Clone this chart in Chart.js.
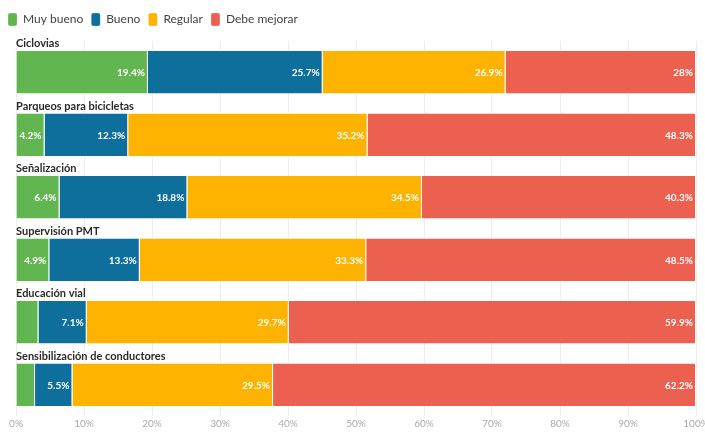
<!DOCTYPE html>
<html lang="es">
<head>
<meta charset="UTF-8">
<title>Evaluación</title>
<script src="https://cdn.jsdelivr.net/npm/chart.js"></script>
<style>
  html, body { margin: 0; padding: 0; background: #fff; }
  .wrap { width: 705px; height: 432px; }
</style>
</head>
<body>
<div class="wrap"><canvas id="grafico"></canvas></div>
<script>
  // datos
  const categorias = ['Ciclovias', 'Parqueos para bicicletas', 'Señalización', 'Supervisión PMT', 'Educación vial', 'Sensibilización de conductores'];
  const muyBueno = [19.4, 4.2, 6.4, 4.9, 3.3, 2.8];
  const bueno = [25.7, 12.3, 18.8, 13.3, 7.1, 5.5];
  const regular = [26.9, 35.2, 34.5, 33.3, 29.7, 29.5];
  const debeMejorar = [28, 48.3, 40.3, 48.5, 59.9, 62.2];
  const ticksX = [0, 10, 20, 30, 40, 50, 60, 70, 80, 90, 100];

  const fuente = "'Source Sans Pro', Lato, 'Open Sans', sans-serif";

  // etiquetas de valor dentro de cada barra
  const etiquetasValor = {
    id: 'etiquetasValor',
    afterDatasetsDraw(chart) {
      const ctx = chart.ctx;
      ctx.save();
      ctx.font = 'bold 10px ' + fuente;
      ctx.fillStyle = '#fff';
      ctx.textAlign = 'right';
      ctx.textBaseline = 'middle';
      chart.data.datasets.forEach(function (ds, i) {
        chart.getDatasetMeta(i).data.forEach(function (bar, j) {
          const v = ds.data[j];
          if (v >= 4) ctx.fillText(v + '%', bar.x - 3, bar.y + 1);
        });
      });
      ctx.restore();
    }
  };

  // nombre de cada categoría encima de su barra
  const titulosBarra = {
    id: 'titulosBarra',
    afterDraw(chart) {
      const ctx = chart.ctx;
      const meta = chart.getDatasetMeta(0);
      ctx.save();
      ctx.font = 'bold 11px ' + fuente;
      ctx.fillStyle = '#2b2b2b';
      ctx.textAlign = 'left';
      ctx.textBaseline = 'bottom';
      meta.data.forEach(function (bar, j) {
        ctx.fillText(categorias[j], chart.chartArea.left, bar.y - bar.height / 2 - 2);
      });
      ctx.restore();
    }
  };

  // un poco más de espacio debajo de la leyenda
  const espacioLeyenda = {
    id: 'espacioLeyenda',
    afterInit(chart) {
      const fit = chart.legend.fit;
      chart.legend.fit = function () {
        fit.call(this);
        this.height += 5;
      };
    }
  };

  function serie(nombre, datos, color) {
    return {
      label: nombre,
      data: datos,
      backgroundColor: color,
      borderColor: '#ffffff',
      borderWidth: { left: 0, right: 1, top: 0, bottom: 0 },
      borderSkipped: false,
      categoryPercentage: 1,
      barPercentage: 0.68
    };
  }

  new Chart(document.getElementById('grafico'), {
    type: 'bar',
    data: {
      labels: categorias,
      datasets: [
        serie('Muy bueno', muyBueno, '#62b64f'),
        serie('Bueno', bueno, '#0e6e9c'),
        serie('Regular', regular, '#fdb300'),
        serie('Debe mejorar', debeMejorar, '#eb604e')
      ]
    },
    options: {
      indexAxis: 'y',
      responsive: true,
      maintainAspectRatio: false,
      animation: false,
      layout: { padding: { top: 5, bottom: 0, left: 0, right: 0 } },
      scales: {
        x: {
          stacked: true,
          min: 0,
          max: 100,
          afterBuildTicks(scale) {
            scale.ticks = ticksX.map(function (v) { return { value: v }; });
          },
          afterFit(scale) {
            scale.paddingLeft = 16;
            scale.paddingRight = 9;
          },
          ticks: {
            callback: function (v) { return v + '%'; },
            color: '#aaaaaa',
            font: { size: 10, family: fuente },
            padding: 2,
            maxRotation: 0
          },
          grid: { color: '#eeeeee', drawTicks: false },
          border: { display: false }
        },
        y: {
          stacked: true,
          display: false
        }
      },
      plugins: {
        legend: {
          position: 'top',
          align: 'start',
          labels: {
            boxWidth: 9,
            boxHeight: 13,
            useBorderRadius: true,
            borderRadius: 2,
            color: '#444444',
            font: { size: 12, family: fuente },
            padding: 8
          }
        },
        tooltip: { enabled: false }
      }
    },
    plugins: [etiquetasValor, titulosBarra, espacioLeyenda]
  });
</script>
</body>
</html>
